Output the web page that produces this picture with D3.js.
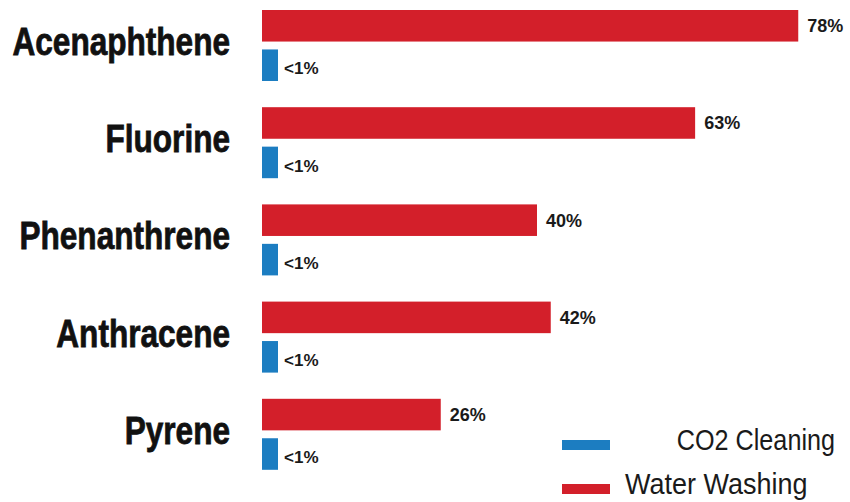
<!DOCTYPE html>
<html>
<head>
<meta charset="utf-8">
<script src="https://cdn.jsdelivr.net/npm/d3@7"></script>
<style>
  body { margin: 0; background: #fff; }
  svg { display: block; }
  .cat { font-family: "Liberation Sans", Arial, sans-serif; font-weight: bold; font-size: 39px; fill: #111; stroke: #111; stroke-width: 0.8px; }
  .val { font-family: "Liberation Sans", Arial, sans-serif; font-weight: bold; fill: #1a1a1a; }
  .legend text { font-family: "Liberation Sans", Arial, sans-serif; font-size: 30px; fill: #1a1a1a; }
</style>
</head>
<body>
<div id="chart"></div>
<script>
// Chart data
const compounds = ["Acenaphthene", "Fluorine", "Phenanthrene", "Anthracene", "Pyrene"];
const waterWashing = [78, 63, 40, 42, 26];
const co2Cleaning = [1, 1, 1, 1, 1];
const co2Labels = ["<1%", "<1%", "<1%", "<1%", "<1%"];
const seriesNames = ["CO2 Cleaning", "Water Washing"];

const width = 850;
const height = 502;
const colors = { "CO2 Cleaning": "#1c7dc1", "Water Washing": "#d31f2a" };
const condense = 0.81; // squeeze the names to look like a condensed face

const svg = d3.select("#chart")
    .append("svg")
    .attr("width", width)
    .attr("height", height);

// Row per compound, two bars in each row
const y = d3.scaleBand()
    .domain(compounds)
    .range([10, 496]);

const inner = d3.scaleBand()
    .domain(["Water Washing", "CO2 Cleaning"])
    .range([0, 71])
    .paddingInner(0.2);

const x = d3.scaleLinear()
    .domain([0, 80])
    .range([262, 812]);

const rows = svg.selectAll(".row")
    .data(compounds.map((c, i) => ({ name: c, water: waterWashing[i], co2: co2Cleaning[i], co2Label: co2Labels[i] })))
    .enter()
    .append("g")
    .attr("class", "row")
    .attr("transform", d => `translate(0,${y(d.name)})`);

// Compound names
rows.append("text")
    .attr("class", "cat")
    .attr("transform", `translate(230,45) scale(${condense},1)`)
    .attr("text-anchor", "end")
    .text(d => d.name);

// Water washing bars
rows.append("rect")
    .attr("x", x(0))
    .attr("y", inner("Water Washing"))
    .attr("width", d => x(d.water) - x(0))
    .attr("height", inner.bandwidth())
    .attr("fill", colors["Water Washing"]);

rows.append("text")
    .attr("class", "val")
    .attr("x", d => x(d.water) + 9)
    .attr("y", inner("Water Washing") + inner.bandwidth() / 2)
    .attr("dy", "0.36em")
    .style("font-size", "18px")
    .text(d => d.water + "%");

// CO2 cleaning bars (tiny values drawn as a short stub)
rows.append("rect")
    .attr("x", x(0))
    .attr("y", inner("CO2 Cleaning"))
    .attr("width", d => Math.max(x(d.co2) - x(0), 16))
    .attr("height", inner.bandwidth())
    .attr("fill", colors["CO2 Cleaning"]);

rows.append("text")
    .attr("class", "val")
    .attr("x", x(0) + 22)
    .attr("y", inner("CO2 Cleaning") + inner.bandwidth() / 2 + 3)
    .attr("dy", "0.36em")
    .style("font-size", "17px")
    .text(d => d.co2Label);

// Legend
const legend = svg.append("g").attr("class", "legend");

const legendY = d3.scalePoint()
    .domain(seriesNames)
    .range([445, 489]);

legend.selectAll("rect")
    .data(seriesNames)
    .enter()
    .append("rect")
    .attr("x", 562)
    .attr("y", d => legendY(d) - 5)
    .attr("width", 48)
    .attr("height", 10)
    .attr("fill", d => colors[d]);

legend.selectAll("text")
    .data(seriesNames)
    .enter()
    .append("text")
    .attr("transform", (d, i) => `translate(${i === 0 ? 835 : 625},${legendY(d) + 5}) scale(${i === 0 ? 0.84 : 0.9},1)`)
    .attr("text-anchor", (d, i) => i === 0 ? "end" : "start")
    .text(d => d);
</script>
</body>
</html>
